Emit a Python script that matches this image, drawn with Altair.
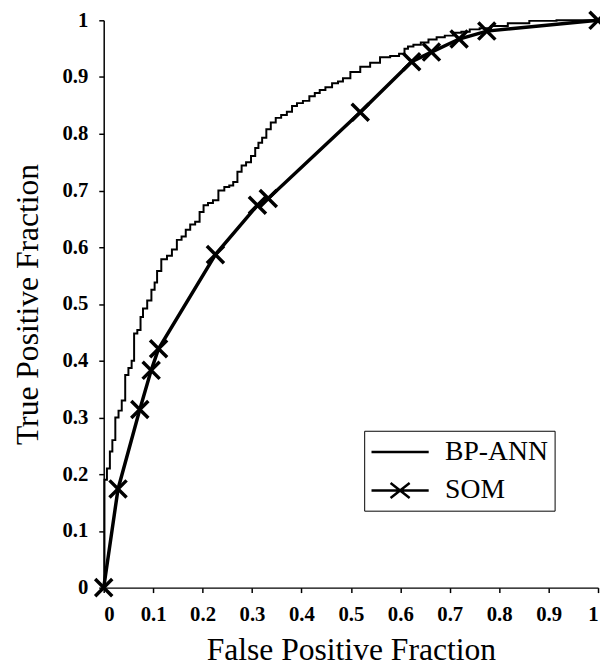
import altair as alt
import pandas as pd

# SOM operating points (markers)
som_x = [0.0, 0.029, 0.073, 0.096, 0.111, 0.226, 0.311, 0.333, 0.519, 0.623, 0.663, 0.719, 0.775, 1.0]
som_y = [0.0, 0.174, 0.314, 0.383, 0.421, 0.587, 0.674, 0.686, 0.838, 0.927, 0.944, 0.967, 0.981, 1.0]

# BP-ANN ROC curve
bp_x = [0.0, 0.003, 0.010, 0.015, 0.020, 0.027, 0.033, 0.040, 0.047, 0.053, 0.060, 0.063, 0.073,
        0.076, 0.083, 0.093, 0.100, 0.106, 0.110, 0.123, 0.133, 0.143, 0.153, 0.162, 0.170, 0.180,
        0.190, 0.198, 0.206, 0.216, 0.226, 0.238, 0.250, 0.258, 0.266, 0.275, 0.283, 0.293, 0.303,
        0.310, 0.316, 0.325, 0.333, 0.343, 0.353, 0.365, 0.376, 0.386, 0.396, 0.410, 0.422, 0.432,
        0.442, 0.455, 0.469, 0.479, 0.489, 0.509, 0.529, 0.549, 0.569, 0.590, 0.605, 0.612, 0.619,
        0.634, 0.649, 0.665, 0.682, 0.698, 0.715, 0.732, 0.749, 0.772, 0.795, 0.840, 0.882, 0.950, 1.0]
bp_y = [0.0, 0.190, 0.210, 0.240, 0.260, 0.300, 0.312, 0.330, 0.375, 0.387, 0.400, 0.448, 0.454,
        0.477, 0.492, 0.506, 0.525, 0.538, 0.558, 0.579, 0.585, 0.596, 0.613, 0.619, 0.631, 0.640,
        0.645, 0.662, 0.674, 0.678, 0.683, 0.700, 0.706, 0.709, 0.715, 0.733, 0.744, 0.750, 0.761,
        0.775, 0.784, 0.793, 0.808, 0.820, 0.828, 0.833, 0.839, 0.849, 0.854, 0.858, 0.866, 0.872,
        0.877, 0.882, 0.889, 0.892, 0.898, 0.909, 0.918, 0.925, 0.935, 0.937, 0.941, 0.950, 0.954,
        0.957, 0.961, 0.966, 0.970, 0.973, 0.978, 0.980, 0.984, 0.986, 0.990, 0.995, 0.999, 1.0, 1.0]

series_names = ["BP-ANN", "SOM"]
x_ticks = [0, 0.1, 0.2, 0.3, 0.4, 0.5, 0.6, 0.7, 0.8, 0.9, 1]
y_ticks = [0, 0.1, 0.2, 0.3, 0.4, 0.5, 0.6, 0.7, 0.8, 0.9, 1]

bp_df = pd.DataFrame({"x": bp_x, "y": bp_y, "series": "BP-ANN", "order": range(len(bp_x))})
som_df = pd.DataFrame({"x": som_x, "y": som_y, "series": "SOM", "order": range(len(som_x))})

FONT = "Liberation Serif"

xenc = alt.X("x:Q", scale=alt.Scale(domain=[0, 1], nice=False),
             axis=alt.Axis(values=x_ticks, format=".1~f", title="False Positive Fraction",
                           labelPadding=11, titlePadding=11))
yenc = alt.Y("y:Q", scale=alt.Scale(domain=[0, 1], nice=False),
             axis=alt.Axis(values=y_ticks, format=".1~f", title="True Positive Fraction",
                           labelPadding=11, titlePadding=18))

bp_line = alt.Chart(bp_df).mark_line(color="black", strokeWidth=2, interpolate="step").encode(
    x=xenc, y=yenc, order="order:Q",
)

som_line = alt.Chart(som_df).mark_line(color="black", strokeWidth=3.5).encode(
    x=xenc, y=yenc, order="order:Q",
)

markers = alt.Chart(som_df).mark_point(
    shape="M-1,-1L1,1M-1,1L1,-1", size=300, strokeWidth=3.5, color="black", filled=False, opacity=1
).encode(x=xenc, y=yenc)

# legend symbols: a line for BP-ANN, a line with a cross for SOM
bp_sym = "M-1.6,0H2.6"
som_sym = "M-1.6,0H2.6M-0.2,-0.55L1.2,0.55M-0.2,0.55L1.2,-0.55"

legend_layer = alt.Chart(som_df).mark_point(
    filled=False, color="transparent", stroke="transparent", fill="transparent"
).encode(
    x=xenc, y=yenc,
    shape=alt.Shape("series:N", scale=alt.Scale(domain=series_names, range=[bp_sym, som_sym]),
                    legend=alt.Legend(title=None, orient="none", legendX=264, legendY=416,
                                      strokeColor="black", fillColor="white", padding=6,
                                      symbolSize=762, symbolOffset=8, labelOffset=37, rowPadding=9,
                                      symbolStrokeWidth=2.5, symbolStrokeColor="black",
                                      symbolFillColor="transparent", symbolOpacity=1,
                                      labelFont=FONT, labelFontSize=28, labelColor="black")),
)

chart = alt.layer(bp_line, som_line, markers, legend_layer).properties(
    width=501, height=575,
    autosize=alt.AutoSizeParams(type="none"),
    padding={"left": 97, "top": 8, "right": 2, "bottom": 79},
).configure_view(stroke=None).configure_axis(
    grid=False, domainColor="black", domainWidth=1.5, tickColor="black", tickWidth=1.5,
    tickSize=5, labelColor="black", titleColor="black", labelFont=FONT, titleFont=FONT,
    labelFontSize=21, labelFontWeight="bold", titleFontSize=32, titleFontWeight="normal",
)

chart.save("out.html", embed_options={"renderer": "svg", "actions": False})
